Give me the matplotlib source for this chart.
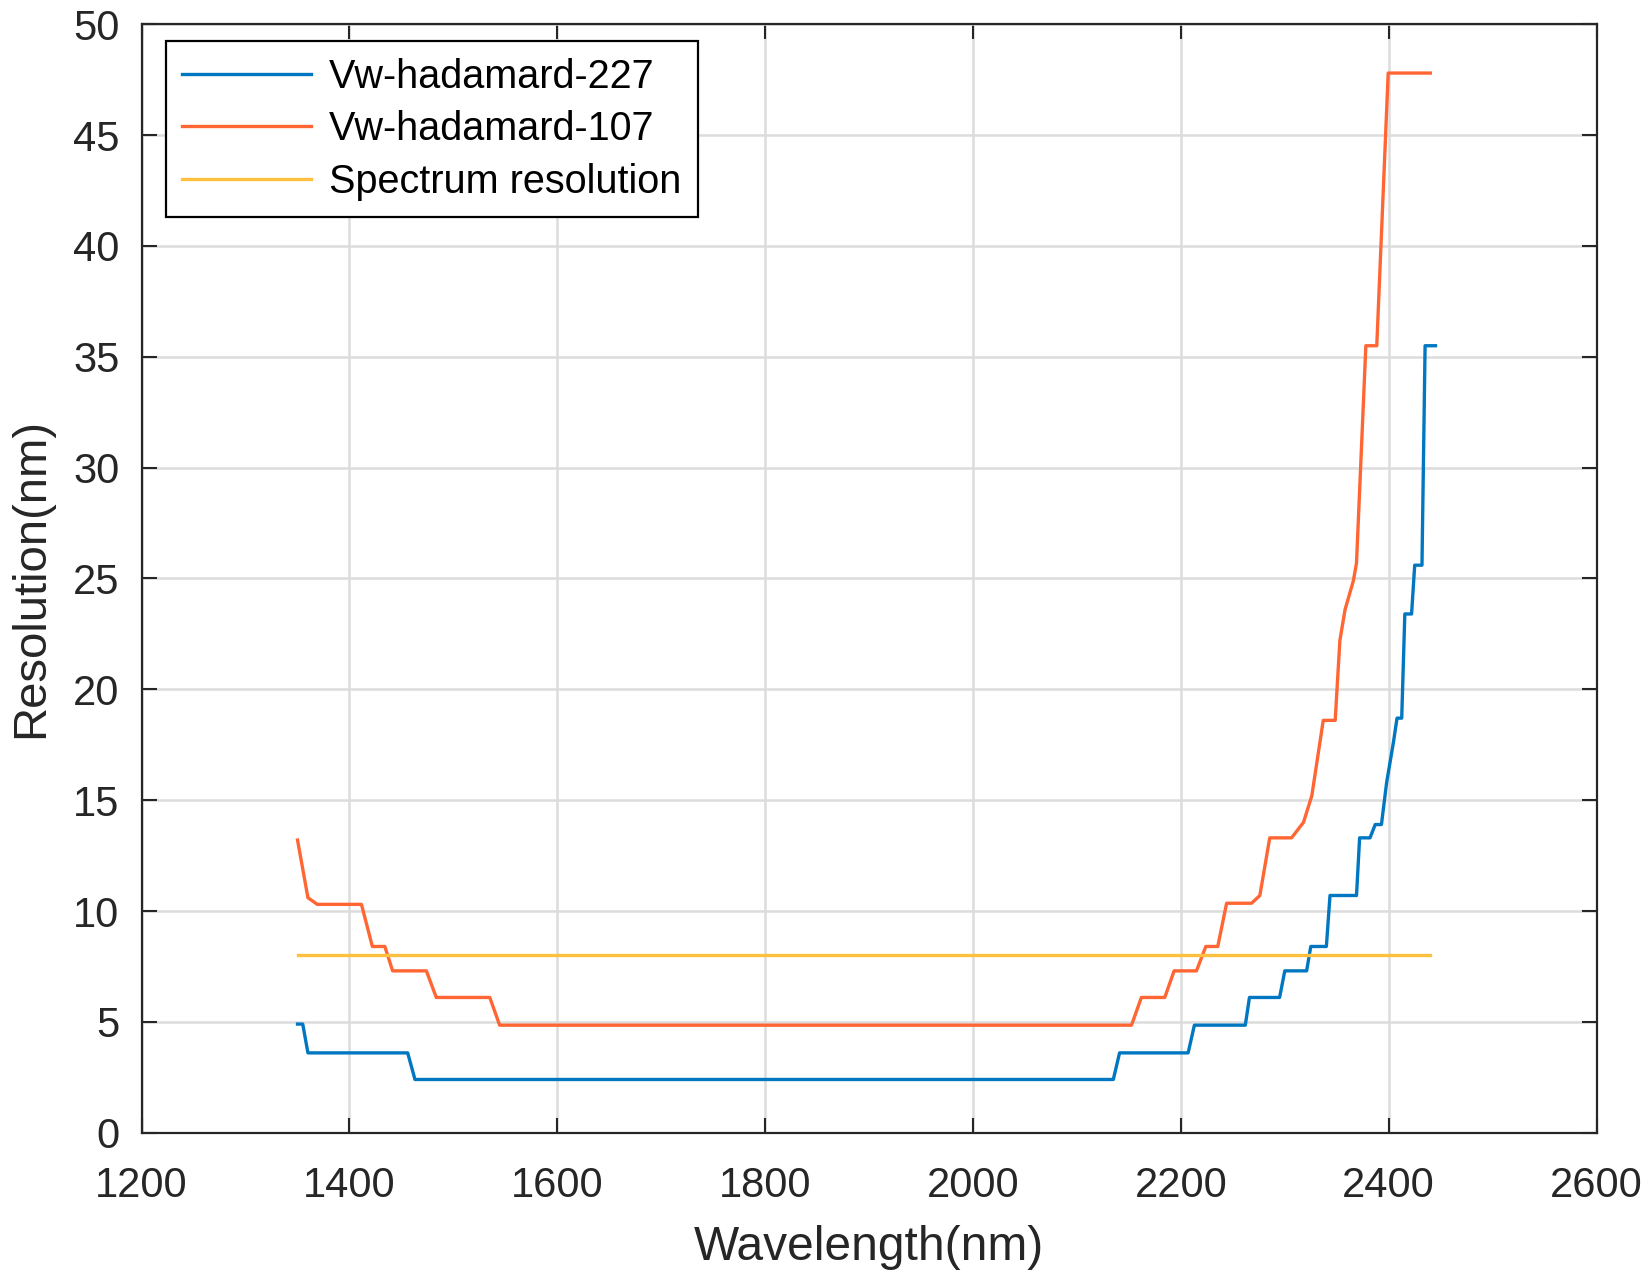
import matplotlib.pyplot as plt

# Datos (nm)
wl_227 = [1350, 1355, 1360, 1456, 1463, 2135, 2141, 2207, 2213, 2262, 2266, 2295,
          2300, 2321, 2325, 2340, 2343.5, 2369, 2372, 2382, 2387, 2393, 2398,
          2404.5, 2408, 2412.5, 2415.5, 2422, 2425, 2432, 2435, 2445]
res_227 = [4.9, 4.9, 3.6, 3.6, 2.4, 2.4, 3.6, 3.6, 4.85, 4.85, 6.1, 6.1,
           7.3, 7.3, 8.4, 8.4, 10.7, 10.7, 13.3, 13.3, 13.9, 13.9, 15.8,
           17.6, 18.7, 18.7, 23.4, 23.4, 25.6, 25.6, 35.5, 35.5]

wl_107 = [1350, 1360, 1369, 1411.5, 1422, 1434, 1441.5, 1474, 1483.5, 1535, 1544.5,
          2152.5, 2162, 2184.5, 2193.5, 2215, 2224, 2235.5, 2244, 2268, 2276,
          2285.5, 2306.5, 2318, 2326, 2337, 2348.5, 2353, 2358, 2366, 2369,
          2378, 2388.5, 2399.5, 2440]
res_107 = [13.2, 10.6, 10.3, 10.3, 8.4, 8.4, 7.3, 7.3, 6.1, 6.1, 4.85,
           4.85, 6.1, 6.1, 7.3, 7.3, 8.4, 8.4, 10.35, 10.35, 10.7,
           13.3, 13.3, 14.0, 15.2, 18.6, 18.6, 22.2, 23.6, 24.9, 25.7,
           35.5, 35.5, 47.8, 47.8]

wl_spec = [1350, 2440]
res_spec = [8, 8]

labels = ['Vw-hadamard-227', 'Vw-hadamard-107', 'Spectrum resolution']
colores = ['#0077C0', '#FF6633', '#FFC040']

plt.rcParams['font.family'] = ['Liberation Sans', 'DejaVu Sans']

fig = plt.figure(figsize=(16.49, 12.79), dpi=100)
ax = fig.add_axes([0.0859, 0.1144, 0.8823, 0.8666])

ax.plot(wl_227, res_227, color=colores[0], lw=2.4, label=labels[0])
ax.plot(wl_107, res_107, color=colores[1], lw=2.4, label=labels[1])
ax.plot(wl_spec, res_spec, color=colores[2], lw=2.4, label=labels[2])

ax.set_xlim(1200, 2600)
ax.set_ylim(0, 50)
ax.set_xticks(range(1200, 2601, 200))
ax.set_yticks(range(0, 51, 5))
ax.grid(True, color='#dcdcdc', lw=1.8)
ax.set_axisbelow(True)

ax.tick_params(direction='in', length=10.5, width=1.5, top=True, right=True,
               labelsize=30, color='#262626', labelcolor='#262626')
ax.tick_params(axis='x', pad=24)
ax.tick_params(axis='y', pad=16)
for s in ax.spines.values():
    s.set_linewidth(1.6)
    s.set_color('#262626')

ax.set_xlabel('Wavelength(nm)', fontsize=34.5, color='#262626', labelpad=14)
ax.set_ylabel('Resolution(nm)', fontsize=34, color='#262626', labelpad=14)

leg = ax.legend(loc='upper left', bbox_to_anchor=(0.0165, 0.985), fontsize=28.5,
                frameon=True, fancybox=False, edgecolor='black', framealpha=1,
                handlelength=3.25, handletextpad=0.45, labelspacing=0.37,
                borderpad=0.42, borderaxespad=0)
leg.get_frame().set_linewidth(1.6)

plt.savefig('out.png', dpi=100)
